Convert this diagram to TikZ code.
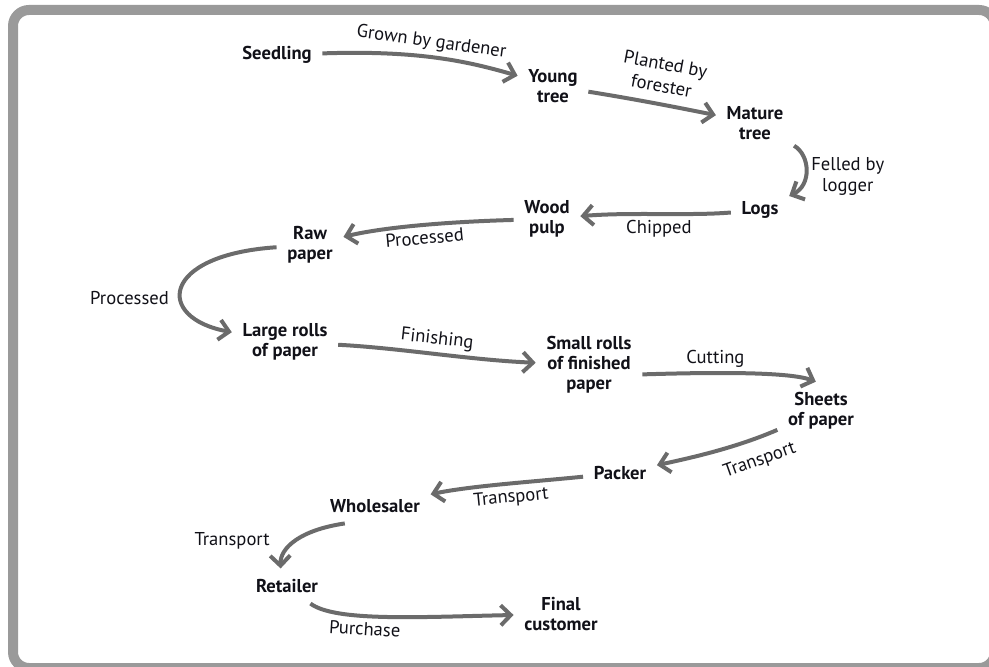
\documentclass[tikz,border=0pt]{standalone}
\usepackage{fontspec}
\setmainfont{PT Sans}
\usetikzlibrary{arrows.meta}
\definecolor{arrowgray}{HTML}{6B6B6B}
\definecolor{framegray}{HTML}{9A9A9A}
\definecolor{ink}{HTML}{111118}

\begin{document}
\begin{tikzpicture}[x=0.5pt, y=-0.5pt, thick,
  stage/.style = {font=\fontsize{9.3}{10}\selectfont\bfseries, align=center, inner sep=5pt, text=ink},
  act/.style = {font=\fontsize{9.3}{10.6}\selectfont, align=center, inner sep=2pt, text=ink},
  flow/.style = {draw=arrowgray, line width=2pt, -{Straight Barb[length=5pt, width=10pt]}}]
\useasboundingbox (0,0) rectangle (989,667);
\draw[framegray, line width=5pt, rounded corners=8pt] (13,10) rectangle (995,668);

\node[stage] (seed) at (277,55) {Seedling};
\node[stage] (young) at (553,86) {Young\\tree};
\node[stage] (mature) at (755,123) {Mature\\tree};
\node[stage] (logs) at (760,210) {Logs};
\node[stage] (pulp) at (547,219) {Wood\\pulp};
\node[stage] (raw) at (310,245) {Raw\\paper};
\node[stage] (large) at (285,342) {Large rolls\\of paper};
\node[stage] (small) at (589,365) {Small rolls\\of finished\\paper};
\node[stage] (sheets) at (821,411) {Sheets\\of paper};
\node[stage] (packer) at (620,473) {Packer};
\node[stage] (whole) at (375,506) {Wholesaler};
\node[stage] (ret) at (287,586) {Retailer};
\node[stage] (final) at (561,614) {Final\\customer};

\draw[flow] (seed) .. controls (420,50) and (470,62) .. (young) node[act, pos=0.45, above, rotate=-8] {Grown by gardener};
\draw[flow] (young) .. controls (640,100) and (680,108) .. (mature) node[act, pos=0.5, above=3pt, sloped, font=\fontsize{9.3}{11}\selectfont] {Planted by\\forester};
\draw[flow] (mature) .. controls (810,155) and (812,185) .. (logs) node[act, pos=0.6, right] {Felled by\\logger};
\draw[flow] (logs) .. controls (690,216) and (630,212) .. (pulp) node[act, pos=0.5, below] {Chipped};
\draw[flow] (pulp) .. controls (440,222) and (380,228) .. (raw) node[act, pos=0.45, below, sloped] {Processed};
\draw[flow] (raw) .. controls (160,255) and (155,318) .. (large) node[act, pos=0.6, left=3pt] {Processed};
\draw[flow] (large) .. controls (400,348) and (470,360) .. (small) node[act, pos=0.5, above, sloped] {Finishing};
\draw[flow] (small.-10) .. controls (720,372) and (790,372) .. (sheets.100) node[act, pos=0.33, above, sloped] {Cutting};
\draw[flow] (sheets) .. controls (740,446) and (700,456) .. (packer) node[act, pos=0.22, below=4pt, sloped] {Transport};
\draw[flow] (packer) .. controls (530,482) and (470,486) .. (whole) node[act, pos=0.45, below, sloped] {Transport};
\draw[flow] (whole.-150) .. controls (300,530) and (280,548) .. (ret.110) node[act, pos=0.5, left=10pt] {Transport};
\draw[flow] (ret) .. controls (335,622) and (420,617) .. (final) node[act, pos=0.4, below, sloped] {Purchase};
\end{tikzpicture}
\end{document}
